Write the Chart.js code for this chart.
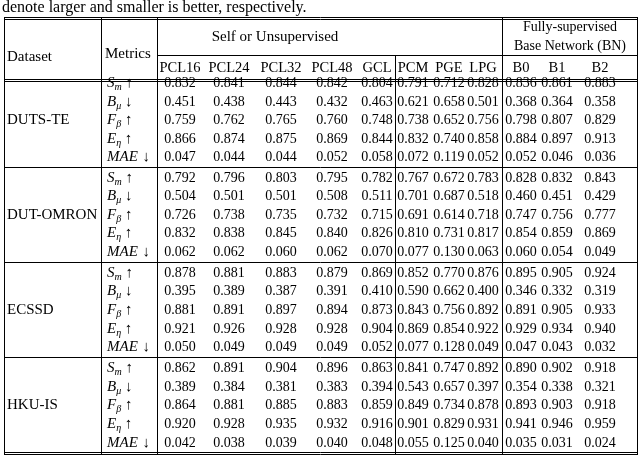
<!DOCTYPE html>
<html><head><meta charset="utf-8">
<script src="https://cdn.jsdelivr.net/npm/chart.js@4.4.0/dist/chart.umd.min.js"></script>
<style>html,body{margin:0;padding:0;background:#fff}#wrap{width:640px;height:455px}</style>
</head><body><div id="wrap"><canvas id="c"></canvas></div>
<script>
const caption = "denote larger and smaller is better, respectively.";
const groupHeaders = ["Self or Unsupervised", "Fully-supervised", "Base Network (BN)"];
const methods = ["PCL16","PCL24","PCL32","PCL48","GCL","PCM","PGE","LPG","B0","B1","B2"];
const datasets = ["DUTS-TE","DUT-OMRON","ECSSD","HKU-IS"];
const metrics = [["S","m","↑"],["B","μ","↓"],["F","β","↑"],["E","η","↑"],["MAE","","↓"]];
const dutsTE = [
 [0.832,0.841,0.844,0.842,0.804,0.791,0.712,0.828,0.836,0.861,0.883],
 [0.451,0.438,0.443,0.432,0.463,0.621,0.658,0.501,0.368,0.364,0.358],
 [0.759,0.762,0.765,0.760,0.748,0.738,0.652,0.756,0.798,0.807,0.829],
 [0.866,0.874,0.875,0.869,0.844,0.832,0.740,0.858,0.884,0.897,0.913],
 [0.047,0.044,0.044,0.052,0.058,0.072,0.119,0.052,0.052,0.046,0.036]];
const dutOmron = [
 [0.792,0.796,0.803,0.795,0.782,0.767,0.672,0.783,0.828,0.832,0.843],
 [0.504,0.501,0.501,0.508,0.511,0.701,0.687,0.518,0.460,0.451,0.429],
 [0.726,0.738,0.735,0.732,0.715,0.691,0.614,0.718,0.747,0.756,0.777],
 [0.832,0.838,0.845,0.840,0.826,0.810,0.731,0.817,0.854,0.859,0.869],
 [0.062,0.062,0.060,0.062,0.070,0.077,0.130,0.063,0.060,0.054,0.049]];
const ecssd = [
 [0.878,0.881,0.883,0.879,0.869,0.852,0.770,0.876,0.895,0.905,0.924],
 [0.395,0.389,0.387,0.391,0.410,0.590,0.662,0.400,0.346,0.332,0.319],
 [0.881,0.891,0.897,0.894,0.873,0.843,0.756,0.892,0.891,0.905,0.933],
 [0.921,0.926,0.928,0.928,0.904,0.869,0.854,0.922,0.929,0.934,0.940],
 [0.050,0.049,0.049,0.049,0.052,0.077,0.128,0.049,0.047,0.043,0.032]];
const hkuIS = [
 [0.862,0.891,0.904,0.896,0.863,0.841,0.747,0.892,0.890,0.902,0.918],
 [0.389,0.384,0.381,0.383,0.394,0.543,0.657,0.397,0.354,0.338,0.321],
 [0.864,0.881,0.885,0.883,0.859,0.849,0.734,0.878,0.893,0.903,0.918],
 [0.920,0.928,0.935,0.932,0.916,0.901,0.829,0.931,0.941,0.946,0.959],
 [0.042,0.038,0.039,0.040,0.048,0.055,0.125,0.040,0.035,0.031,0.024]];
const tables = [dutsTE, dutOmron, ecssd, hkuIS];

// layout (in scale units == page pixels)
const colX = [180,229,281,332,377,413,449,483,521,557,600];
const blockY = [[83,102,120,139,157],[178,196,215,233,252],[273,291,310,329,347],[368,387,405,424,443]];
const vLines = [4,101,157,502,637];
const FONT = "'Liberation Serif','DejaVu Serif',serif";

const tablePlugin = {
  id:'table',
  afterDraw(chart){
    const ctx = chart.ctx, sx = chart.scales.x, sy = chart.scales.y;
    const X = v=>sx.getPixelForValue(v), Y = v=>sy.getPixelForValue(v);
    ctx.save();
    ctx.fillStyle='#000'; ctx.strokeStyle='#000'; ctx.textBaseline='middle';
    const line=(x1,y1,x2,y2)=>{ctx.lineWidth=1;ctx.beginPath();ctx.moveTo(X(x1),Y(y1));ctx.lineTo(X(x2),Y(y2));ctx.stroke();};
    const text=(s,x,y,al,size)=>{ctx.font=(size||15)+'px '+FONT;ctx.textAlign=al||'center';ctx.fillText(s,X(x),Y(y));};
    text(caption,2,8,'left',16);
    line(4,17.5,637,17.5); line(4,19.5,637,19.5);
    line(157,55.5,637,55.5);
    line(4,79.5,637,79.5); line(4,81.5,637,81.5);
    line(4,167.5,637,167.5); line(4,262.5,637,262.5); line(4,357.5,637,357.5);
    line(4,452.5,637,452.5); line(4,454.5,637,454.5);
    vLines.forEach(v=>line(v+0.5,17,v+0.5,455));
    line(395.5,55,395.5,455);
    text(groupHeaders[0],275,37,'center',15);
    text(groupHeaders[1],570,27,'center',14); text(groupHeaders[2],570,46,'center',14);
    text("Dataset",7,57,'left',15); text("Metrics",105,54,'left',15);
    methods.forEach((m,i)=>text(m,colX[i],68,'center',14.5));
    tables.forEach((tb,b)=>{
      const ys=blockY[b];
      text(datasets[b],7,ys[2],'left',15);
      metrics.forEach((m,r)=>{
        ctx.font='italic 15px '+FONT; ctx.textAlign='left';
        let x=X(107), y=Y(ys[r]);
        ctx.fillText(m[0],x,y); x+=ctx.measureText(m[0]).width+(m[0]==='MAE'?1:0);
        if(m[1]){ctx.font='italic 10px '+FONT; ctx.fillText(m[1],x,y+4); x+=ctx.measureText(m[1]).width;}
        ctx.font='15px '+FONT; ctx.fillText(' '+m[2],x,y);
        tb[r].forEach((v,i)=>text(v.toFixed(3),colX[i],ys[r],'center',14));
      });
    });
    ctx.restore();
  }
};

new Chart(document.getElementById('c'),{
  type:'scatter',
  data:{datasets:[{data:[],pointRadius:0}]},
  options:{responsive:true,maintainAspectRatio:false,animation:false,
    layout:{padding:0},
    plugins:{legend:{display:false},tooltip:{enabled:false}},
    scales:{x:{type:'linear',min:0,max:640,display:false},
            y:{type:'linear',min:0,max:455,reverse:true,display:false}}},
  plugins:[tablePlugin]
});
</script></body></html>
